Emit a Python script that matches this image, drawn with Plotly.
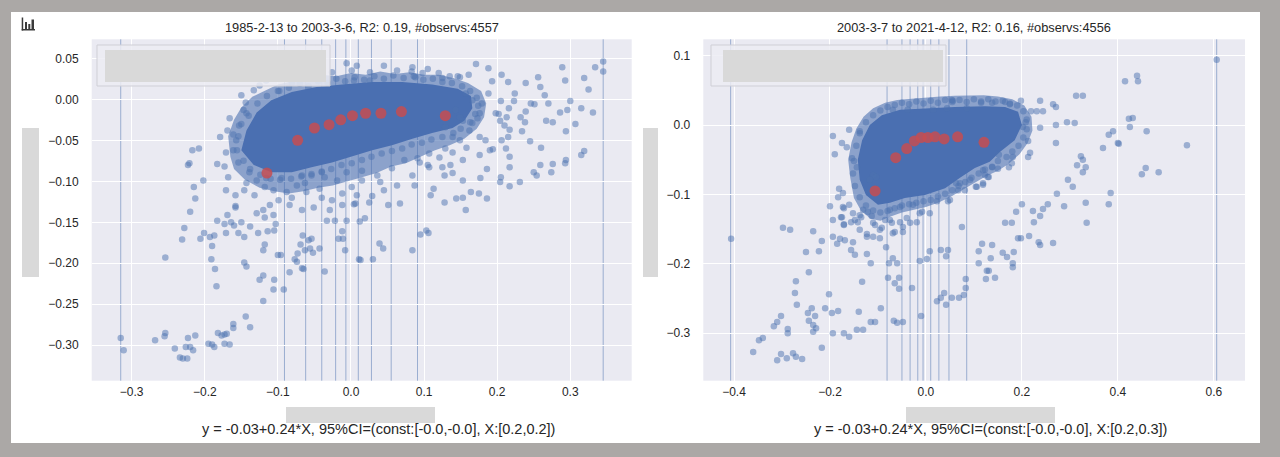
import plotly.graph_objects as go

W, H = 1280, 457

# ---------------- left panel (1985-2-13 to 2003-3-6) ----------------
left_title = "1985-2-13 to 2003-3-6, R2: 0.19, #observs:4557"
left_eq = "y = -0.03+0.24*X, 95%CI=(const:[-0.0,-0.0], X:[0.2,0.2])"

left_x = [
    -0.133, -0.100, -0.144, -0.147, -0.143, -0.169, -0.179, -0.161, -0.217, -0.208,
    -0.221, -0.223, -0.183, -0.173, -0.171, -0.202, -0.215, -0.213, -0.171, -0.158,
    -0.168, -0.154, -0.146, -0.158, -0.132, -0.118, -0.099, -0.081, -0.063, -0.054,
    -0.036, -0.026, -0.040, -0.012, 0.006, 0.001, 0.015,
    -0.220, -0.254, -0.231, -0.228, -0.206, -0.201, -0.193, -0.190, -0.187, -0.191,
    -0.186, -0.184, -0.183, -0.169, -0.173, -0.164, -0.160, -0.150, -0.171, -0.154,
    -0.146, -0.158, -0.138, -0.127, -0.129, -0.118, -0.114, -0.105, -0.103, -0.146,
    -0.143, -0.118, -0.120, -0.100, -0.096, -0.120, -0.125, -0.105, -0.106, -0.092,
    -0.120, -0.084, -0.077, -0.074, -0.073, -0.066, -0.069, -0.063, -0.058, -0.054,
    -0.056, -0.052, -0.067, -0.065, -0.043, -0.036, -0.033, -0.022, -0.006, -0.012,
    -0.017, -0.011, -0.008, 0.011, 0.013, 0.012, 0.019, 0.030, 0.039, 0.044,
    0.084, 0.095, 0.103, 0.106, 0.157, 0.128, 0.051, 0.067, 0.004, 0.025,
    -0.315, -0.311, -0.268, -0.254, -0.255, -0.241, -0.234, -0.230, -0.224, -0.226,
    -0.220, -0.216, -0.223, -0.213, -0.195, -0.190, -0.187, -0.182, -0.177, -0.173,
    -0.170, -0.173, -0.166, -0.161, -0.161, -0.144, -0.138,
    0.345, 0.345, 0.334, 0.319, 0.325, 0.331, 0.315, 0.307, 0.300, 0.296,
    0.289, 0.293, 0.286, 0.294, 0.294, 0.293, 0.315, 0.319, 0.276, 0.274,
    0.259, 0.260, 0.276, 0.267, 0.270, 0.265, 0.259, 0.256, 0.246, 0.251,
    0.239, 0.239, 0.232, 0.238, 0.245, 0.234, 0.250, 0.254, 0.231, 0.217,
    0.204, 0.205, 0.217, 0.217, 0.212, 0.206, 0.215, 0.217, 0.210, 0.204,
    0.213, 0.198, 0.202, 0.216, 0.205, 0.223, 0.224, 0.215, 0.206, 0.193,
    0.188, 0.188, 0.171, 0.161, 0.149, 0.135, 0.120, 0.105, 0.083, 0.190,
    0.186, 0.176, 0.176, 0.184, 0.194, 0.177, 0.164, 0.175, 0.186, 0.153,
    0.109, 0.113, 0.144, 0.153, 0.139, 0.136, 0.125, 0.121, 0.107, 0.107,
    0.087, 0.128, 0.153, 0.166, 0.173, 0.162, 0.153, 0.179, 0.176, 0.166,
    0.157, 0.143, 0.149, 0.139, 0.149, 0.129, 0.139, 0.158, 0.129, 0.088,
    0.098, 0.094,
    -0.095, -0.074, -0.061, -0.043, -0.019, -0.006, 0.015, 0.036, 0.056, 0.073,
    0.091, 0.105, 0.063, 0.045, 0.029, 0.008, -0.012, -0.029, -0.051, -0.067,
    -0.084, -0.111, -0.106, -0.120, 0.040, 0.084, -0.067, -0.040,
    -0.116, -0.067, -0.026, 0.001, 0.026, 0.045, 0.063, 0.084, 0.125, 0.146,
    -0.006, 0.008, 0.026, 0.004, -0.150, -0.125, -0.081,
    -0.153, -0.157, -0.161, -0.166, -0.139, -0.129, -0.116, -0.106, -0.088, -0.143,
    # points hugging the edge of the saturated cloud
    -0.140, -0.128, -0.115, -0.098, -0.085, -0.070, -0.058, -0.045, -0.032, -0.020,
    -0.008, 0.005, 0.018, 0.032, 0.045, 0.058, 0.072, 0.086, 0.099, 0.112,
    0.125, 0.138, 0.152, 0.163, 0.172, 0.174, 0.170, 0.163, 0.150, 0.140,
    0.125, 0.110, 0.097, 0.083, 0.070, 0.056, 0.042, 0.028, 0.015, 0.001,
    -0.013, -0.027, -0.040, -0.054, -0.068, -0.082, -0.097, -0.110, -0.124, -0.138,
    -0.147, -0.156, -0.154, -0.150,
]
left_y = [
    0.011, 0.010, -0.004, -0.013, -0.017, -0.038, -0.046, -0.043, -0.062, -0.060,
    -0.078, -0.080, -0.079, -0.082, -0.065, -0.099, -0.107, -0.121, -0.111, -0.117,
    -0.095, -0.077, -0.111, -0.130, -0.117, -0.107, -0.123, -0.120, -0.102, -0.093,
    -0.095, -0.123, -0.120, -0.115, -0.127, -0.107, -0.099,
    -0.137, -0.193, -0.171, -0.157, -0.170, -0.163, -0.168, -0.179, -0.166, -0.195,
    -0.207, -0.228, -0.148, -0.141, -0.152, -0.150, -0.154, -0.150, -0.163, -0.163,
    -0.168, -0.132, -0.155, -0.163, -0.139, -0.144, -0.161, -0.160, -0.152, -0.199,
    -0.204, -0.177, -0.184, -0.190, -0.190, -0.215, -0.220, -0.220, -0.232, -0.232,
    -0.246, -0.211, -0.195, -0.198, -0.188, -0.166, -0.177, -0.184, -0.172, -0.170,
    -0.182, -0.187, -0.206, -0.207, -0.182, -0.210, -0.148, -0.148, -0.148, -0.161,
    -0.170, -0.170, -0.184, -0.195, -0.196, -0.149, -0.145, -0.195, -0.176, -0.182,
    -0.184, -0.165, -0.160, -0.163, -0.135, -0.126, -0.129, -0.127, -0.128, -0.126,
    -0.291, -0.306, -0.294, -0.285, -0.289, -0.304, -0.315, -0.316, -0.316, -0.302,
    -0.302, -0.306, -0.291, -0.288, -0.298, -0.299, -0.302, -0.285, -0.288, -0.287,
    -0.286, -0.298, -0.299, -0.274, -0.279, -0.265, -0.278,
    0.046, 0.034, 0.039, 0.026, 0.012, -0.016, -0.011, -0.030, -0.002, -0.013,
    0.039, 0.023, -0.016, -0.039, -0.074, -0.078, -0.068, -0.063, -0.079, -0.089,
    -0.080, -0.059, -0.028, -0.026, -0.005, 0.005, 0.015, 0.027, -0.005, -0.006,
    0.020, -0.015, -0.022, -0.028, -0.051, -0.039, -0.089, -0.093, -0.101, -0.106,
    -0.101, -0.095, -0.083, -0.070, -0.060, -0.050, -0.046, -0.037, -0.032, -0.026,
    -0.022, -0.017, -0.018, -0.011, -0.002, -0.002, 0.007, 0.021, 0.030, 0.022,
    0.007, 0.038, 0.043, 0.030, 0.027, 0.028, 0.032, 0.037, 0.034, -0.062,
    -0.085, -0.046, -0.068, -0.050, -0.061, -0.096, -0.113, -0.115, -0.121, -0.120,
    -0.117, -0.109, -0.121, -0.099, -0.090, -0.080, -0.083, -0.071, -0.066, -0.083,
    -0.105, -0.093, -0.074, -0.029, -0.023, -0.038, -0.026, -0.005, -0.017, -0.001,
    0.007, -0.013, -0.022, -0.046, -0.050, -0.060, -0.065, -0.059, -0.034, 0.027,
    0.032, -0.077,
    -0.096, -0.105, -0.113, -0.109, -0.099, -0.089, -0.087, -0.093, -0.084, -0.074,
    -0.072, -0.080, -0.105, -0.111, -0.118, -0.117, -0.129, -0.135, -0.132, -0.135,
    -0.129, -0.129, -0.141, -0.135, -0.101, -0.093, -0.093, -0.089,
    0.023, 0.026, 0.033, 0.035, 0.033, 0.041, 0.035, 0.039, 0.026, 0.028,
    0.044, 0.041, 0.023, 0.023, 0.005, 0.017, 0.020,
    -0.032, -0.050, -0.062, -0.023, -0.089, -0.099, -0.096, -0.111, -0.113, -0.102,
    -0.020, -0.005, 0.004, 0.010, 0.014, 0.019, 0.016, 0.022, 0.020, 0.025,
    0.022, 0.027, 0.024, 0.028, 0.025, 0.029, 0.026, 0.028, 0.024, 0.025,
    0.021, 0.020, 0.016, 0.010, 0.002, -0.008, -0.018, -0.028, -0.036, -0.041,
    -0.046, -0.049, -0.053, -0.055, -0.060, -0.063, -0.066, -0.070, -0.074, -0.078,
    -0.080, -0.085, -0.088, -0.091, -0.094, -0.097, -0.098, -0.097, -0.092, -0.085,
    -0.075, -0.062, -0.045, -0.030,
]
# outline of the saturated cloud (where single points can no longer be told apart)
left_core_x = [-0.150, -0.143, -0.129, -0.109, -0.081, -0.047, -0.012, 0.029, 0.070, 0.111,
               0.146, 0.164, 0.166, 0.155, 0.139, 0.111, 0.084, 0.056, 0.029, 0.001,
               -0.026, -0.054, -0.081, -0.109, -0.133]
left_core_y = [-0.062, -0.038, -0.016, -0.001, 0.009, 0.015, 0.018, 0.021, 0.021, 0.018,
               0.013, 0.004, -0.011, -0.026, -0.035, -0.041, -0.048, -0.056, -0.062, -0.070,
               -0.077, -0.083, -0.089, -0.089, -0.080]
# outline of the half-dense band of overlapping points round it
left_halo_x = [-0.165, -0.168, -0.160, -0.150, -0.135, -0.118, -0.100, -0.080, -0.060, -0.040,
               -0.020, 0.000, 0.020, 0.040, 0.060, 0.080, 0.100, 0.120, 0.140, 0.160,
               0.178, 0.185, 0.182, 0.172, 0.155, 0.135, 0.115, 0.095, 0.075, 0.055,
               0.035, 0.015, -0.005, -0.025, -0.045, -0.065, -0.085, -0.105, -0.125, -0.145,
               -0.160]
left_halo_y = [-0.070, -0.045, -0.025, -0.010, 0.003, 0.010, 0.018, 0.022, 0.025, 0.030,
               0.028, 0.032, 0.030, 0.034, 0.031, 0.033, 0.030, 0.030, 0.026, 0.020,
               0.010, -0.005, -0.022, -0.036, -0.048, -0.056, -0.062, -0.070, -0.078, -0.082,
               -0.090, -0.095, -0.100, -0.105, -0.108, -0.112, -0.115, -0.112, -0.108, -0.098,
               -0.085]
left_edges = [-0.315, -0.091, -0.062, -0.040, -0.021, -0.007, 0.010, 0.028, 0.055, 0.091, 0.345]
left_mean_x = [-0.115, -0.073, -0.050, -0.030, -0.014, 0.002, 0.020, 0.041, 0.069, 0.129]
left_mean_y = [-0.090, -0.050, -0.035, -0.031, -0.025, -0.020, -0.017, -0.017, -0.015, -0.020]
left_xticks = [-0.3, -0.2, -0.1, 0.0, 0.1, 0.2, 0.3]
left_xtext = ["\u22120.3", "\u22120.2", "\u22120.1", "0.0", "0.1", "0.2", "0.3"]
left_yticks = [0.05, 0.0, -0.05, -0.10, -0.15, -0.20, -0.25, -0.30]
left_ytext = ["0.05", "0.00", "\u22120.05", "\u22120.10", "\u22120.15", "\u22120.20", "\u22120.25", "\u22120.30"]

# ---------------- right panel (2003-3-7 to 2021-4-12) ----------------
right_title = "2003-3-7 to 2021-4-12, R2: 0.16, #observs:4556"
right_eq = "y = -0.03+0.24*X, 95%CI=(const:[-0.0,-0.0], X:[0.2,0.3])"

right_x = [
    -0.406, -0.194, -0.190, -0.160, -0.138, -0.175, -0.165, -0.154, -0.144, -0.181,
    -0.173, -0.183, -0.200, -0.171, -0.160, -0.175, -0.194, -0.171, -0.148, -0.135,
    -0.121, -0.110, -0.123, -0.092, -0.075, -0.065, -0.048, -0.019, -0.008, 0.008,
    0.023, 0.046, 0.075, -0.298, -0.283, -0.235, -0.110, -0.117, -0.104, 0.071,
    0.092, 0.106, 0.119, 0.123, 0.129, 0.054, 0.115, 0.138, -0.069, -0.038,
    0.015, 0.044, 0.085,
    0.606, 0.415, 0.440, 0.442, 0.313, 0.327, 0.265, 0.271, 0.238, 0.244,
    0.231, 0.219, 0.198, 0.175, 0.165, 0.056, 0.208, 0.202, 0.238, 0.271,
    0.294, 0.310, 0.213, 0.217, 0.213, 0.271, 0.181, 0.179, 0.173, 0.152,
    0.138, 0.150, 0.119, 0.131, 0.119, 0.104, 0.067, 0.081, 0.063, 0.050,
    0.423, 0.431, 0.425, 0.460, 0.390, 0.381, 0.400, 0.402, 0.369, 0.544,
    0.323, 0.327, 0.315, 0.333, 0.327, 0.458, 0.450, 0.485, 0.296, 0.306,
    0.273, 0.385, 0.333, 0.381, 0.288, 0.254, 0.244, 0.223, 0.238, 0.225,
    0.200, 0.188, 0.165, 0.179, 0.335, 0.215, 0.192,
    -0.250, -0.223, -0.217, -0.244, -0.271, -0.273, -0.269, -0.302, -0.310, -0.317,
    -0.288, -0.288, -0.340, -0.348, -0.360, -0.310, -0.302, -0.290, -0.277, -0.271,
    -0.258, -0.246, -0.238, -0.231, -0.244, -0.235, -0.229, -0.235, -0.217, -0.210,
    -0.202, -0.196, -0.183, -0.194, -0.171, -0.160, -0.144, -0.131, -0.140, -0.133,
    -0.115, -0.106, -0.094, -0.067, -0.060, -0.048, -0.010, -0.079, -0.065, -0.056,
    -0.056, -0.029, -0.069, -0.077, -0.060, -0.083, -0.115, -0.123, -0.148, -0.156,
    -0.185, -0.179, -0.169, -0.152, -0.194, -0.177, -0.171, -0.156, -0.142, -0.138,
    -0.123, -0.110, -0.096, -0.013, 0.002, 0.008, 0.031, 0.042, 0.046, 0.023,
    0.031, 0.042, 0.038, 0.054, 0.069, 0.079, 0.083, 0.083, 0.110, 0.117,
    0.110, 0.138, 0.135, 0.127, 0.131, 0.125, 0.144, 0.160, 0.169, 0.183,
    0.181, 0.181, 0.198, 0.235, 0.238, 0.265,
    -0.173, -0.152, -0.131, -0.113, -0.106, -0.096, -0.085, -0.071, -0.054, -0.040,
    -0.033, -0.075, -0.054, -0.027, -0.013, -0.069, -0.048, -0.138,
    # points hugging the edge of the saturated cloud
    -0.145, -0.138, -0.125, -0.110, -0.095, -0.080, -0.065, -0.050, -0.035, -0.020,
    -0.005, 0.010, 0.025, 0.040, 0.055, 0.070, 0.085, 0.100, 0.115, 0.130,
    0.145, 0.160, 0.175, 0.190, 0.203, 0.210, 0.210, 0.203, 0.193, 0.180,
    0.168, 0.150, 0.138, 0.123, 0.110, 0.095, 0.082, 0.068, 0.055, 0.040,
    0.025, 0.010, -0.005, -0.020, -0.035, -0.050, -0.065, -0.080, -0.095, -0.110,
    -0.125, -0.138, -0.148, -0.152, -0.150,
]
right_y = [
    -0.164, -0.016, -0.042, -0.007, -0.009, -0.026, -0.032, -0.048, -0.061, -0.092,
    -0.098, -0.104, -0.117, -0.120, -0.115, -0.133, -0.137, -0.143, -0.137, -0.133,
    -0.125, -0.141, -0.157, -0.148, -0.137, -0.154, -0.147, -0.140, -0.125, -0.127,
    -0.110, -0.110, -0.147, -0.148, -0.151, -0.153, -0.072, -0.079, -0.075, -0.084,
    -0.079, -0.089, -0.084, -0.072, -0.075, 0.036, 0.032, 0.032, 0.022, 0.022,
    0.022, 0.024, 0.024,
    0.094, 0.063, 0.071, 0.063, 0.042, 0.042, 0.030, 0.026, 0.035, 0.020,
    0.020, 0.020, 0.035, 0.030, 0.033, 0.035, 0.004, -0.003, -0.004, 0.000,
    0.004, 0.003, -0.023, -0.040, -0.046, -0.026, -0.046, -0.055, -0.061, -0.043,
    -0.061, -0.063, -0.065, -0.075, -0.086, -0.089, -0.094, -0.094, -0.084, -0.108,
    0.009, 0.010, -0.003, -0.009, -0.009, -0.014, -0.026, -0.027, -0.033, -0.029,
    -0.045, -0.050, -0.058, -0.061, -0.068, -0.062, -0.071, -0.068, -0.079, -0.089,
    -0.099, -0.098, -0.112, -0.114, -0.117, -0.114, -0.121, -0.124, -0.131, -0.140,
    -0.114, -0.125, -0.141, -0.141, -0.141, -0.160, -0.163,
    -0.183, -0.182, -0.167, -0.212, -0.225, -0.242, -0.259, -0.275, -0.284, -0.290,
    -0.294, -0.300, -0.307, -0.310, -0.327, -0.339, -0.330, -0.336, -0.329, -0.334,
    -0.337, -0.271, -0.264, -0.275, -0.282, -0.288, -0.293, -0.298, -0.321, -0.264,
    -0.244, -0.271, -0.268, -0.300, -0.300, -0.305, -0.295, -0.295, -0.269, -0.226,
    -0.284, -0.284, -0.264, -0.282, -0.285, -0.284, -0.275, -0.220, -0.228, -0.236,
    -0.220, -0.235, -0.192, -0.199, -0.199, -0.176, -0.199, -0.186, -0.187, -0.180,
    -0.171, -0.164, -0.166, -0.169, -0.161, -0.133, -0.144, -0.140, -0.140, -0.151,
    -0.161, -0.161, -0.163, -0.196, -0.193, -0.182, -0.180, -0.189, -0.180, -0.254,
    -0.249, -0.259, -0.242, -0.249, -0.249, -0.245, -0.235, -0.222, -0.199, -0.171,
    -0.182, -0.173, -0.192, -0.210, -0.210, -0.222, -0.220, -0.184, -0.190, -0.183,
    -0.199, -0.205, -0.163, -0.169, -0.173, -0.170,
    -0.118, -0.127, -0.122, -0.131, -0.144, -0.151, -0.137, -0.141, -0.140, -0.134,
    -0.141, -0.122, -0.118, -0.115, -0.127, -0.156, -0.154, -0.130,
    -0.030, -0.012, 0.004, 0.014, 0.021, 0.026, 0.029, 0.032, 0.030, 0.034,
    0.031, 0.035, 0.032, 0.036, 0.033, 0.036, 0.033, 0.037, 0.034, 0.037,
    0.034, 0.035, 0.031, 0.028, 0.020, 0.008, -0.006, -0.018, -0.030, -0.038,
    -0.046, -0.052, -0.060, -0.064, -0.070, -0.076, -0.082, -0.088, -0.094, -0.099,
    -0.103, -0.108, -0.110, -0.112, -0.114, -0.116, -0.120, -0.124, -0.126, -0.123,
    -0.116, -0.104, -0.088, -0.070, -0.052,
]
right_core_x = [-0.142, -0.133, -0.117, -0.092, -0.054, -0.002, 0.060, 0.123, 0.165, 0.192,
                0.200, 0.185, 0.154, 0.133, 0.102, 0.071, 0.040, -0.002, -0.044, -0.075,
                -0.100, -0.125, -0.138]
right_core_y = [-0.050, -0.022, 0.000, 0.014, 0.022, 0.024, 0.026, 0.027, 0.026, 0.019,
                0.000, -0.022, -0.039, -0.053, -0.062, -0.076, -0.091, -0.101, -0.105, -0.112,
                -0.115, -0.101, -0.079]
right_halo_x = [-0.158, -0.162, -0.155, -0.145, -0.130, -0.110, -0.085, -0.060, -0.030, 0.000,
                0.030, 0.060, 0.090, 0.120, 0.150, 0.180, 0.205, 0.220, 0.222, 0.212,
                0.195, 0.172, 0.150, 0.125, 0.100, 0.075, 0.050, 0.025, 0.000, -0.025,
                -0.050, -0.075, -0.095, -0.115, -0.135, -0.150]
right_halo_y = [-0.075, -0.050, -0.025, -0.005, 0.012, 0.024, 0.032, 0.036, 0.038, 0.040,
                0.041, 0.042, 0.042, 0.043, 0.041, 0.037, 0.028, 0.012, -0.008, -0.026,
                -0.042, -0.056, -0.066, -0.074, -0.084, -0.094, -0.104, -0.112, -0.118, -0.122,
                -0.126, -0.132, -0.138, -0.135, -0.124, -0.105]
right_edges = [-0.407, -0.081, -0.050, -0.033, -0.017, -0.006, 0.010, 0.027, 0.048, 0.085, 0.606]
right_mean_x = [-0.106, -0.063, -0.040, -0.024, -0.010, 0.004, 0.019, 0.038, 0.066, 0.121]
right_mean_y = [-0.095, -0.047, -0.034, -0.023, -0.018, -0.018, -0.017, -0.020, -0.017, -0.025]
right_xticks = [-0.4, -0.2, 0.0, 0.2, 0.4, 0.6]
right_xtext = ["\u22120.4", "\u22120.2", "0.0", "0.2", "0.4", "0.6"]
right_yticks = [0.1, 0.0, -0.1, -0.2, -0.3]
right_ytext = ["0.1", "0.0", "\u22120.1", "\u22120.2", "\u22120.3"]

RED = "rgba(196,78,82,0.85)"
TXT = "#262626"
FONT = "Liberation Sans, Arial, sans-serif"
GREY_BOX = "#d9d9d9"
FRAME = "#aba8a6"


def px_rect(x0, y0, x1, y1, **kw):
    # rectangle given in screen pixels, converted to paper fractions
    return dict(type="rect", xref="paper", yref="paper",
                x0=x0 / W, x1=x1 / W, y0=1 - y1 / H, y1=1 - y0 / H, **kw)


fig = go.Figure()

panels = [
    ("x", "y", left_x, left_y, left_core_x, left_core_y, left_halo_x, left_halo_y,
     left_mean_x, left_mean_y),
    ("x2", "y2", right_x, right_y, right_core_x, right_core_y, right_halo_x, right_halo_y,
     right_mean_x, right_mean_y),
]
for xa, ya, px, py, cx, cy, hx, hy, mx, my in panels:
    fig.add_trace(go.Scatter(x=hx, y=hy, xaxis=xa, yaxis=ya, mode="lines", fill="toself",
                             fillcolor="rgba(76,114,176,0.6)", line=dict(width=0),
                             hoverinfo="skip"))
    fig.add_trace(go.Scatter(x=cx, y=cy, xaxis=xa, yaxis=ya, mode="lines", fill="toself",
                             fillcolor="#4a6fb1", line=dict(width=0), hoverinfo="skip"))
    fig.add_trace(go.Scatter(x=px, y=py, xaxis=xa, yaxis=ya, mode="markers",
                             marker=dict(size=6.5, color="rgba(76,114,176,0.5)",
                                         line=dict(width=0))))
    fig.add_trace(go.Scatter(x=mx, y=my, xaxis=xa, yaxis=ya, mode="markers",
                             marker=dict(size=11, color=RED, line=dict(width=0))))

shapes = []
for edges, xr, yr in [(left_edges, "x", "y domain"), (right_edges, "x2", "y2 domain")]:
    for e in edges:
        shapes.append(dict(type="line", xref=xr, yref=yr, x0=e, x1=e, y0=0, y1=1,
                           line=dict(color="rgba(76,114,176,0.5)", width=1),
                           layer="below"))

# grey frame round the white figure
shapes += [
    px_rect(0, 0, W, 12, fillcolor=FRAME, line_width=0, layer="above"),
    px_rect(0, 443, W, H, fillcolor=FRAME, line_width=0, layer="above"),
    px_rect(0, 0, 11, H, fillcolor=FRAME, line_width=0, layer="above"),
    px_rect(1260, 0, W, H, fillcolor=FRAME, line_width=0, layer="above"),
]
# legend frames with blanked entries
for fx0, fx1, gx0, gx1 in [(97, 330, 105, 326), (711, 946, 723, 943)]:
    shapes.append(px_rect(fx0, 45, fx1, 86, fillcolor="rgba(236,236,243,0.85)",
                          line=dict(color="#cfcfd6", width=1), layer="above"))
    shapes.append(px_rect(gx0, 50, gx1, 82, fillcolor=GREY_BOX, line_width=0, layer="above"))
# blanked axis labels
shapes += [
    px_rect(22, 128, 39, 277, fillcolor=GREY_BOX, line_width=0, layer="above"),
    px_rect(643, 128, 658, 277, fillcolor=GREY_BOX, line_width=0, layer="above"),
    px_rect(286, 407, 435, 423, fillcolor=GREY_BOX, line_width=0, layer="above"),
    px_rect(906, 407, 1055, 423, fillcolor=GREY_BOX, line_width=0, layer="above"),
]
# small chart icon in the corner
for bx0, by0, bx1, by1 in [(21.7, 17.5, 23.2, 30.5), (21.7, 29, 35, 30.5),
                           (25, 22, 27, 29), (28.3, 24, 30.3, 29), (31.5, 19.5, 34, 29)]:
    shapes.append(px_rect(bx0, by0, bx1, by1, fillcolor="#3a3a3a", line_width=0, layer="above"))

annotations = [
    dict(text=left_title, x=361.7 / W, y=1 - 27 / H, font_size=12.8),
    dict(text=right_title, x=974 / W, y=1 - 27 / H, font_size=12.8),
    dict(text=left_eq, x=378.6 / W, y=1 - 429 / H, font_size=14.5),
    dict(text=right_eq, x=990.6 / W, y=1 - 429 / H, font_size=14.5),
]
for a in annotations:
    a.update(xref="paper", yref="paper", showarrow=False, xanchor="center",
             yanchor="middle", font=dict(size=a.pop("font_size"), color=TXT, family=FONT))

axis_style = dict(showgrid=True, gridcolor="white", gridwidth=1.3, zeroline=False,
                  showline=False, ticks="", tickfont=dict(size=12, color=TXT, family=FONT))
y_dom = [1 - 380.7 / H, 1 - 39.3 / H]

fig.update_layout(
    width=W, height=H, margin=dict(l=0, r=0, t=0, b=0),
    paper_bgcolor="white", plot_bgcolor="#eaeaf2", showlegend=False,
    xaxis=dict(domain=[91.7 / W, 631.7 / W], range=[-0.3547, 0.384], anchor="y",
               tickvals=left_xticks, ticktext=left_xtext, ticklabelstandoff=2, **axis_style),
    yaxis=dict(domain=y_dom, range=[-0.3432, 0.0732], anchor="x",
               tickvals=left_yticks, ticktext=left_ytext, ticklabelstandoff=12, **axis_style),
    xaxis2=dict(domain=[703.3 / W, 1245 / W], range=[-0.464, 0.665], anchor="y2",
                tickvals=right_xticks, ticktext=right_xtext, ticklabelstandoff=2, **axis_style),
    yaxis2=dict(domain=y_dom, range=[-0.3684, 0.1235], anchor="x2",
                tickvals=right_yticks, ticktext=right_ytext, ticklabelstandoff=12, **axis_style),
    shapes=shapes,
    annotations=annotations,
)

# the page's default body margin would push the figure 8px off the window
fig.write_html("out.html", config={"displayModeBar": False},
               post_script="document.body.style.margin='0px';")
